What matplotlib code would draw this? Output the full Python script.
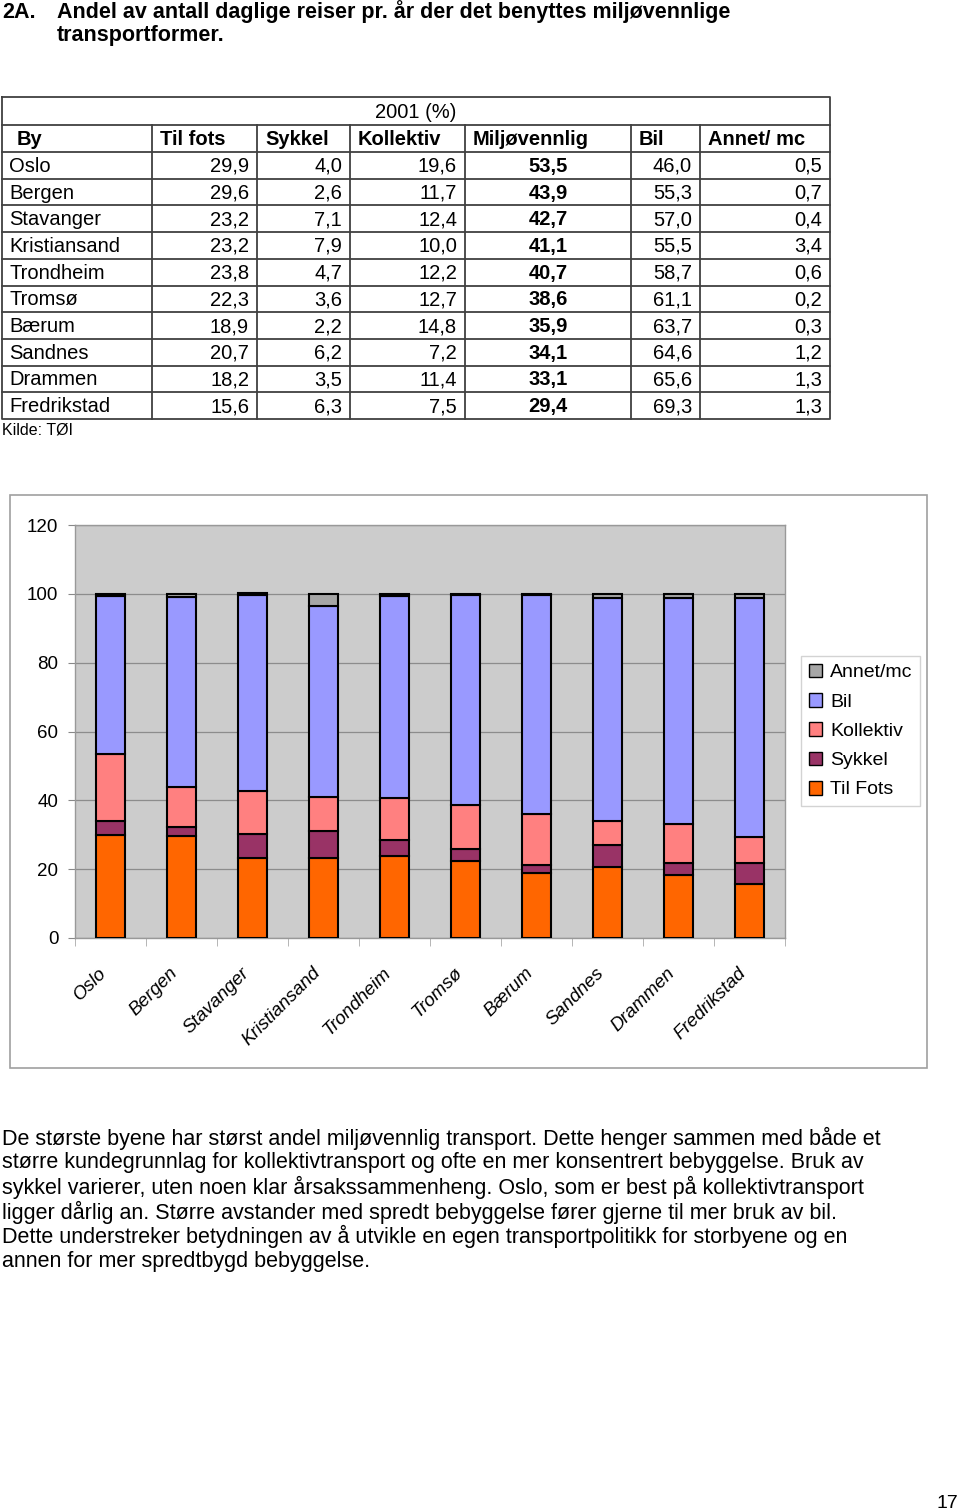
import matplotlib
matplotlib.use("Agg")
import matplotlib.pyplot as plt
import numpy as np
from matplotlib.patches import Rectangle, Patch

plt.rcParams['font.family'] = ['Liberation Sans', 'DejaVu Sans']

# data (2001, %)
cities = ["Oslo", "Bergen", "Stavanger", "Kristiansand", "Trondheim",
          "Tromsø", "Bærum", "Sandnes", "Drammen", "Fredrikstad"]
til_fots = [29.9, 29.6, 23.2, 23.2, 23.8, 22.3, 18.9, 20.7, 18.2, 15.6]
sykkel = [4.0, 2.6, 7.1, 7.9, 4.7, 3.6, 2.2, 6.2, 3.5, 6.3]
kollektiv = [19.6, 11.7, 12.4, 10.0, 12.2, 12.7, 14.8, 7.2, 11.4, 7.5]
miljovennlig = [53.5, 43.9, 42.7, 41.1, 40.7, 38.6, 35.9, 34.1, 33.1, 29.4]
bil = [46.0, 55.3, 57.0, 55.5, 58.7, 61.1, 63.7, 64.6, 65.6, 69.3]
annet = [0.5, 0.7, 0.4, 3.4, 0.6, 0.2, 0.3, 1.2, 1.3, 1.3]

headers = ["By", "Til fots", "Sykkel", "Kollektiv", "Miljøvennlig", "Bil", "Annet/ mc"]
series_names = ["Til Fots", "Sykkel", "Kollektiv", "Bil", "Annet/mc"]
series_colors = ["#FF6600", "#993366", "#FF8080", "#9999FF", "#A6A6A6"]

title_no = "2A."
title_lines = ["Andel av antall daglige reiser pr. år der det benyttes miljøvennlige",
               "transportformer."]
paragraph = [
    "De største byene har størst andel miljøvennlig transport. Dette henger sammen med både et",
    "større kundegrunnlag for kollektivtransport og ofte en mer konsentrert bebyggelse. Bruk av",
    "sykkel varierer, uten noen klar årsakssammenheng. Oslo, som er best på kollektivtransport",
    "ligger dårlig an. Større avstander med spredt bebyggelse fører gjerne til mer bruk av bil.",
    "Dette understreker betydningen av å utvikle en egen transportpolitikk for storbyene og en",
    "annen for mer spredtbygd bebyggelse.",
]

W, H = 960, 1512


def fmt(v):
    return f"{v:.1f}".replace(".", ",")


fig = plt.figure(figsize=(W / 100, H / 100), dpi=100)
pg = fig.add_axes([0, 0, 1, 1])
pg.set_xlim(0, W)
pg.set_ylim(H, 0)
pg.axis("off")

# title
tsize = 15.5
pg.text(2, 12, title_no, fontsize=tsize, fontweight="bold", va="center")
pg.text(57, 12, title_lines[0], fontsize=tsize, fontweight="bold", va="center")
pg.text(57, 36, title_lines[1], fontsize=tsize, fontweight="bold", va="center")

# table
col_edges = [2, 152, 257, 350, 465, 631, 700, 830]
top, head_top = 97, 125
row_top = 152
row_h = (419 - row_top) / len(cities)
bottom = row_top + row_h * len(cities)
lc = "#404040"
tfs = 14.5
pg.plot([col_edges[0], col_edges[-1], col_edges[-1], col_edges[0], col_edges[0]],
        [top, top, bottom, bottom, top], color=lc, lw=1.3)
for y in [head_top, row_top] + [row_top + row_h * k for k in range(1, len(cities))]:
    pg.plot([col_edges[0], col_edges[-1]], [y, y], color=lc, lw=1.3)
for x in col_edges[1:-1]:
    pg.plot([x, x], [head_top, bottom], color=lc, lw=1.3)
pg.text((col_edges[0] + col_edges[-1]) / 2, (top + head_top) / 2 + 1, "2001 (%)",
        fontsize=tfs, ha="center", va="center")
for j, h in enumerate(headers):
    x0 = col_edges[j] + (15 if j == 0 else 8)
    pg.text(x0, (head_top + row_top) / 2 + 1, h, fontsize=tfs, fontweight="bold",
            ha="left", va="center")
cols = [til_fots, sykkel, kollektiv, miljovennlig, bil, annet]
for i, city in enumerate(cities):
    yc = row_top + row_h * (i + 0.5) + 1
    pg.text(col_edges[0] + 7, yc, city, fontsize=tfs, ha="left", va="center")
    for j, vals in enumerate(cols):
        if j == 3:
            pg.text((col_edges[4] + col_edges[5]) / 2, yc, fmt(vals[i]), fontsize=tfs,
                    fontweight="bold", ha="center", va="center")
        else:
            pg.text(col_edges[j + 2] - 8, yc, fmt(vals[i]), fontsize=tfs,
                    ha="right", va="center")
pg.text(2, 430, "Kilde: TØI", fontsize=11.5, ha="left", va="center")

# chart frame
pg.add_patch(Rectangle((10, 495), 917, 573, fill=False, edgecolor="#A0A0A0", lw=1.2))

ax = fig.add_axes([75 / W, 1 - 938 / H, 710 / W, (938 - 525) / H])
ax.set_facecolor("#CCCCCC")
x = np.arange(len(cities))
stack = [til_fots, sykkel, kollektiv, bil, annet]
base = np.zeros(len(cities))
for vals, name, col in zip(stack, series_names, series_colors):
    ax.bar(x, vals, 0.41, bottom=base, color=col, edgecolor="black", lw=1.5,
           label=name, zorder=3)
    base += np.array(vals)

ax.set_xlim(-0.5, len(cities) - 0.5)
ax.set_ylim(0, 120)
ax.set_yticks(range(0, 121, 20))
ax.yaxis.grid(True, color="#8C8C8C", lw=0.9, zorder=1)
ax.tick_params(axis="y", labelsize=13.5, length=5, color="#888888", pad=7)
ax.set_xticks(x)
ax.set_xticklabels(cities, rotation=45, ha="right", va="top", fontsize=13.5,
                   fontstyle="italic")
ax.tick_params(axis="x", length=0, pad=19)
ax.set_xticks(np.arange(-0.5, len(cities)), minor=True)
ax.tick_params(axis="x", which="minor", length=6, color="#AAAAAA")
for s in ax.spines.values():
    s.set_color("#999999")
    s.set_linewidth(1)

handles = [Patch(facecolor=c, edgecolor="black", lw=1) for c in series_colors][::-1]
leg = fig.legend(handles, series_names[::-1], loc="upper left",
                 bbox_to_anchor=(801 / W, 1 - 656 / H), borderaxespad=0,
                 fontsize=14, frameon=True, fancybox=False, edgecolor="#C8C8C8",
                 handlelength=0.7, handleheight=0.7, handletextpad=0.4,
                 labelspacing=0.6, borderpad=0.4)
leg.get_frame().set_linewidth(1)

# paragraph
psize = 15.5
for k, line in enumerate(paragraph):
    pg.text(2, 1138 + 24.7 * k, line, fontsize=psize, ha="left", va="center")

pg.text(958, 1503, "17", fontsize=14, ha="right", va="center")

fig.savefig("out.png", dpi=100)
